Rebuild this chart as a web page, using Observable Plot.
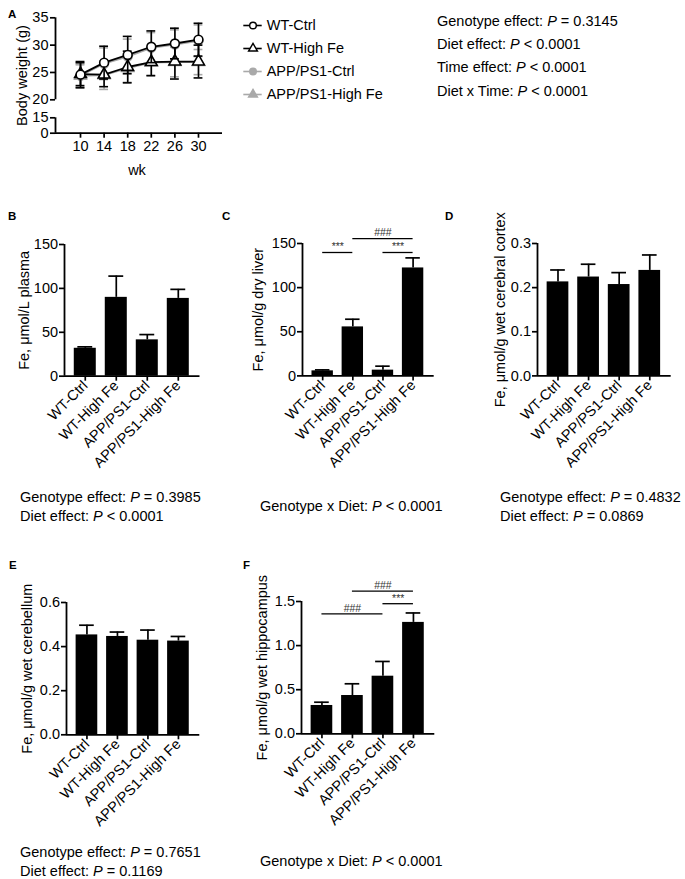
<!DOCTYPE html>
<html><head><meta charset="utf-8">
<script src="https://cdn.jsdelivr.net/npm/d3@7"></script>
<script src="https://cdn.jsdelivr.net/npm/@observablehq/plot@0.6"></script>
<style>
body{margin:0;background:#fff;}
#fig{position:relative;width:685px;height:879px;font-family:"Liberation Sans",Arial,sans-serif;color:#000;overflow:hidden;}
.box{position:absolute;}
.box svg{overflow:visible;background:transparent;}
.t{position:absolute;font-size:14.5px;line-height:16px;white-space:nowrap;}
.lt{position:absolute;font-weight:bold;font-size:11.5px;line-height:12px;}
</style></head><body><div id="fig"></div>
<script>
// ---------- Panel A data ----------
const weeks = [10, 14, 18, 22, 26, 30];
const wtCtrlMean = [24.6, 26.8, 28.2, 29.7, 30.3, 31.0];
const wtCtrlSD   = [2.4, 3.0, 3.4, 2.9, 2.8, 3.0];
const wtFeMean   = [24.7, 24.6, 26.0, 26.9, 27.0, 27.0];
const wtFeSD     = [2.1, 2.2, 2.9, 2.5, 3.2, 3.0];
const appCtrlMean = [24.4, 26.6, 27.9, 29.5, 30.1, 30.8];
const appCtrlSD   = [2.2, 2.9, 3.2, 2.8, 2.7, 2.9];
const appFeMean   = [24.4, 24.5, 25.8, 26.8, 26.9, 26.9];
const appFeSD     = [2.0, 2.6, 2.6, 2.3, 2.7, 2.3];
const bwTicks = [0, 15, 20, 25, 30, 35];
const seriesNames = ["WT-Ctrl", "WT-High Fe", "APP/PS1-Ctrl", "APP/PS1-High Fe"];

// ---------- Bar panels data ----------
const groups = ["WT-Ctrl", "WT-High Fe", "APP/PS1-Ctrl", "APP/PS1-High Fe"];
const plasmaMean = [31.8, 89.8, 41.4, 88.6];
const plasmaSD   = [1.6, 24.2, 6.0, 10.3];
const liverMean  = [5.7, 55.5, 6.5, 122.3];
const liverSD    = [1.1, 8.7, 4.5, 11.4];
const cortexMean = [0.213, 0.224, 0.207, 0.239];
const cortexSD   = [0.027, 0.029, 0.027, 0.035];
const cerebMean  = [0.453, 0.446, 0.429, 0.425];
const cerebSD    = [0.044, 0.020, 0.046, 0.021];
const hippoMean  = [0.321, 0.434, 0.653, 1.263];
const hippoSD    = [0.037, 0.133, 0.167, 0.107];
const liverSig = [
  {from: 1, to: 2, y: 139.8, label: "***"},
  {from: 2, to: 4, y: 155.6, label: "###"},
  {from: 3, to: 4, y: 139.8, label: "***"}
];
const hippoSig = [
  {from: 1, to: 3, y: 1.36, label: "###"},
  {from: 2, to: 4, y: 1.617, label: "###"},
  {from: 3, to: 4, y: 1.475, label: "***"}
];

const FONT = "'Liberation Sans', Arial, sans-serif";
const FS = 14.5;
const fig = document.getElementById("fig");

function place(node, x, y) {
  const d = document.createElement("div");
  d.className = "box";
  d.style.left = x + "px"; d.style.top = y + "px";
  d.appendChild(node);
  fig.appendChild(d);
}
function html(cls, x, y, content) {
  const d = document.createElement("div");
  d.className = cls; d.style.left = x + "px"; d.style.top = y + "px";
  d.innerHTML = content;
  fig.appendChild(d);
}

// ---------- Panel A ----------
const seriesStyle = {
  "WT-Ctrl": {stroke: "#000", fill: "#fff", symbol: "circle"},
  "WT-High Fe": {stroke: "#000", fill: "#fff", symbol: "triangle"},
  "APP/PS1-Ctrl": {stroke: "#a9a9a9", fill: "#a9a9a9", symbol: "circle"},
  "APP/PS1-High Fe": {stroke: "#a9a9a9", fill: "#a9a9a9", symbol: "triangle"}
};
const seriesData = {
  "WT-Ctrl": [wtCtrlMean, wtCtrlSD],
  "WT-High Fe": [wtFeMean, wtFeSD],
  "APP/PS1-Ctrl": [appCtrlMean, appCtrlSD],
  "APP/PS1-High Fe": [appFeMean, appFeSD]
};
{
  const A = {axL: 55, axR: 222, y0: 132.7, y15: 117.3, y20: 99.3, y35: 17.3};
  const bx = 0, by = 0, bw = 230, bh = 185;
  const xDom = [5.76, 34.07];
  const drawOrder = ["APP/PS1-High Fe", "APP/PS1-Ctrl", "WT-High Fe", "WT-Ctrl"];
  const marks = [];
  for (const name of drawOrder) {
    const [m, s] = seriesData[name];
    const rows = weeks.map((wk, i) => ({wk, mean: m[i], sd: s[i]}));
    const st = seriesStyle[name];
    marks.push(
      Plot.ruleX(rows, {x: "wk", y1: d => d.mean - d.sd, y2: d => d.mean + d.sd, stroke: st.stroke, strokeWidth: 1.6}),
      Plot.ruleY(rows, {x1: d => d.wk - 0.75, x2: d => d.wk + 0.75, y: d => d.mean + d.sd, stroke: st.stroke, strokeWidth: 1.6}),
      Plot.ruleY(rows, {x1: d => d.wk - 0.75, x2: d => d.wk + 0.75, y: d => d.mean - d.sd, stroke: st.stroke, strokeWidth: 1.6}),
      Plot.line(rows, {x: "wk", y: "mean", stroke: st.stroke, strokeWidth: 1.8}),
      Plot.dot(rows, {x: "wk", y: "mean", symbol: st.symbol, r: 4.4, stroke: st.stroke, fill: st.fill, strokeWidth: 1.6})
    );
  }
  marks.push(
    Plot.ruleX([{a: 20, b: 35}, {a: 0, b: 15}], {x: () => xDom[0], y1: "a", y2: "b", strokeWidth: 1.8}),
    Plot.ruleY([0], {strokeWidth: 1.8}),
    Plot.axisY({ticks: bwTicks, tickSize: 5, tickPadding: 2, strokeWidth: 1.7, label: null, fontSize: FS}),
    Plot.axisX({ticks: weeks, tickSize: 5, tickPadding: 3, strokeWidth: 1.7, label: null, fontSize: FS}),
    Plot.text(["Body weight (g)"], {text: d => d, frameAnchor: "left", dx: -33, rotate: -90, textAnchor: "middle", lineAnchor: "middle", fontSize: FS}),
    Plot.text(["wk"], {text: d => d, frameAnchor: "bottom", dx: -2, dy: 37, textAnchor: "middle", lineAnchor: "middle", fontSize: FS})
  );
  const p = Plot.plot({
    width: bw, height: bh,
    marginLeft: A.axL - bx, marginRight: bx + bw - A.axR,
    marginTop: A.y35 - by, marginBottom: by + bh - A.y0,
    style: {fontFamily: FONT, fontSize: FS + "px", overflow: "visible", background: "transparent", color: "#000"},
    x: {type: "linear", domain: xDom},
    y: {type: "linear", domain: [0, 15, 20, 35], range: [A.y0 - by, A.y15 - by, A.y20 - by, A.y35 - by]},
    marks
  });
  place(p, bx, by);
}

// ---------- Legend for A ----------
{
  const bx = 230, by = 0;
  const p = Plot.plot({
    width: 200, height: 110, marginLeft: 13.3, marginRight: 168.3, marginTop: 10, marginBottom: 10,
    style: {fontFamily: FONT, fontSize: FS + "px", overflow: "visible", background: "transparent", color: "#000"},
    x: {type: "linear", domain: [0, 1], range: [13.3, 31.7], axis: null},
    y: {type: "point", domain: seriesNames, range: [24.2, 94.3], padding: 0, axis: null},
    marks: [
      ...seriesNames.map(n => Plot.ruleY([n], {y: d => d, x1: () => 0, x2: () => 1, stroke: seriesStyle[n].stroke, strokeWidth: 1.6})),
      ...seriesNames.map(n => Plot.dot([n], {y: d => d, x: () => 0.5, symbol: seriesStyle[n].symbol, r: 3.3, stroke: seriesStyle[n].stroke, fill: seriesStyle[n].fill, strokeWidth: 1.4})),
      Plot.text(seriesNames, {y: d => d, x: () => 1, text: d => d, dx: 4.5, textAnchor: "start", lineAnchor: "middle", fontSize: FS, fill: "#000"})
    ]
  });
  place(p, bx, by);
}

// ---------- Bar panels ----------
const XD = [0.33, 4.70];
function barPanel(cfg) {
  const {axL, axR, yTop, y0, yMax, ticks, fmt, mean, sd, label, labelDx, sig} = cfg;
  const bx = axL - 95, by = yTop - 40, bw = axR + 12 - bx, bh = y0 + 115 - by;
  const data = groups.map((g, i) => ({i: i + 1, g, v: mean[i], e: sd[i]}));
  const marks = [
    Plot.rect(data, {x1: d => d.i - 0.355, x2: d => d.i + 0.355, y1: () => 0, y2: "v", fill: "#000"}),
    Plot.ruleX(data, {x: "i", y1: "v", y2: d => d.v + d.e, stroke: "#000", strokeWidth: 1.7}),
    Plot.ruleY(data, {x1: d => d.i - 0.24, x2: d => d.i + 0.24, y: d => d.v + d.e, stroke: "#000", strokeWidth: 1.7}),
    Plot.ruleY([0], {strokeWidth: 1.8}),
    Plot.ruleX([XD[0]], {strokeWidth: 1.8}),
    Plot.axisY({ticks, tickFormat: fmt, tickSize: 5, tickPadding: 1.5, strokeWidth: 1.7, label: null, fontSize: FS}),
    Plot.axisX({ticks: [1, 2, 3, 4], tickFormat: i => groups[i - 1], tickRotate: -45, tickSize: 5, tickPadding: 2, strokeWidth: 1.7, label: null, fontSize: FS}),
    Plot.text([label], {text: d => d, frameAnchor: "left", dx: -labelDx, rotate: -90, textAnchor: "middle", lineAnchor: "middle", fontSize: FS})
  ];
  if (sig) {
    marks.push(
      Plot.ruleY(sig, {x1: "from", x2: "to", y: "y", stroke: "#000", strokeWidth: 1.3}),
      Plot.text(sig, {x: d => (d.from + d.to) / 2, y: "y", text: "label", dy: -5.5, lineAnchor: "middle", fontSize: 10.5, fill: "#333"})
    );
  }
  const p = Plot.plot({
    width: bw, height: bh,
    marginLeft: axL - bx, marginRight: bx + bw - axR,
    marginTop: yTop - by, marginBottom: by + bh - y0,
    style: {fontFamily: FONT, fontSize: FS + "px", overflow: "visible", background: "transparent", color: "#000"},
    x: {type: "linear", domain: XD},
    y: {type: "linear", domain: [0, yMax]},
    marks
  });
  place(p, bx, by);
}
const f0 = d3.format("d"), f1 = d3.format(".1f");
barPanel({axL: 63.5, axR: 199, yTop: 244, y0: 375.7, yMax: 150, ticks: [0, 50, 100, 150], fmt: f0,
  mean: plasmaMean, sd: plasmaSD, label: "Fe, μmol/L plasma", labelDx: 40});
barPanel({axL: 302.3, axR: 434, yTop: 243.3, y0: 375.7, yMax: 150, ticks: [0, 50, 100, 150], fmt: f0,
  mean: liverMean, sd: liverSD, label: "Fe, μmol/g dry liver", labelDx: 44, sig: liverSig});
barPanel({axL: 537.3, axR: 671, yTop: 243.3, y0: 375.7, yMax: 0.3, ticks: [0, 0.1, 0.2, 0.3], fmt: f1,
  mean: cortexMean, sd: cortexSD, label: "Fe, μmol/g wet cerebral cortex", labelDx: 37});
barPanel({axL: 65.7, axR: 199, yTop: 601.7, y0: 734, yMax: 0.6, ticks: [0, 0.2, 0.4, 0.6], fmt: f1,
  mean: cerebMean, sd: cerebSD, label: "Fe, μmol/g wet cerebellum", labelDx: 39});
barPanel({axL: 300.7, axR: 434, yTop: 601, y0: 733.3, yMax: 1.5, ticks: [0, 0.5, 1.0, 1.5], fmt: f1,
  mean: hippoMean, sd: hippoSD, label: "Fe, μmol/g wet hippocampus", labelDx: 39, sig: hippoSig});

// ---------- Text annotations ----------
html("t", 437, 12.7, "Genotype effect: <i>P</i> = 0.3145");
html("t", 437, 36, "Diet effect: <i>P</i> &lt; 0.0001");
html("t", 437, 59.3, "Time effect: <i>P</i> &lt; 0.0001");
html("t", 437, 82.7, "Diet x Time: <i>P</i> &lt; 0.0001");

html("t", 20, 488.7, "Genotype effect: <i>P</i> = 0.3985");
html("t", 20, 507.7, "Diet effect: <i>P</i> &lt; 0.0001");
html("t", 260, 498, "Genotype x Diet: <i>P</i> &lt; 0.0001");
html("t", 500, 488.7, "Genotype effect: <i>P</i> = 0.4832");
html("t", 500, 507.7, "Diet effect: <i>P</i> = 0.0869");
html("t", 20, 843.7, "Genotype effect: <i>P</i> = 0.7651");
html("t", 20, 862.7, "Diet effect: <i>P</i> = 0.1169");
html("t", 260, 853, "Genotype x Diet: <i>P</i> &lt; 0.0001");

html("lt", 8, 8, "A");
html("lt", 8, 210, "B");
html("lt", 222, 210, "C");
html("lt", 445, 210, "D");
html("lt", 9, 559, "E");
html("lt", 243, 559, "F");
</script></body></html>
